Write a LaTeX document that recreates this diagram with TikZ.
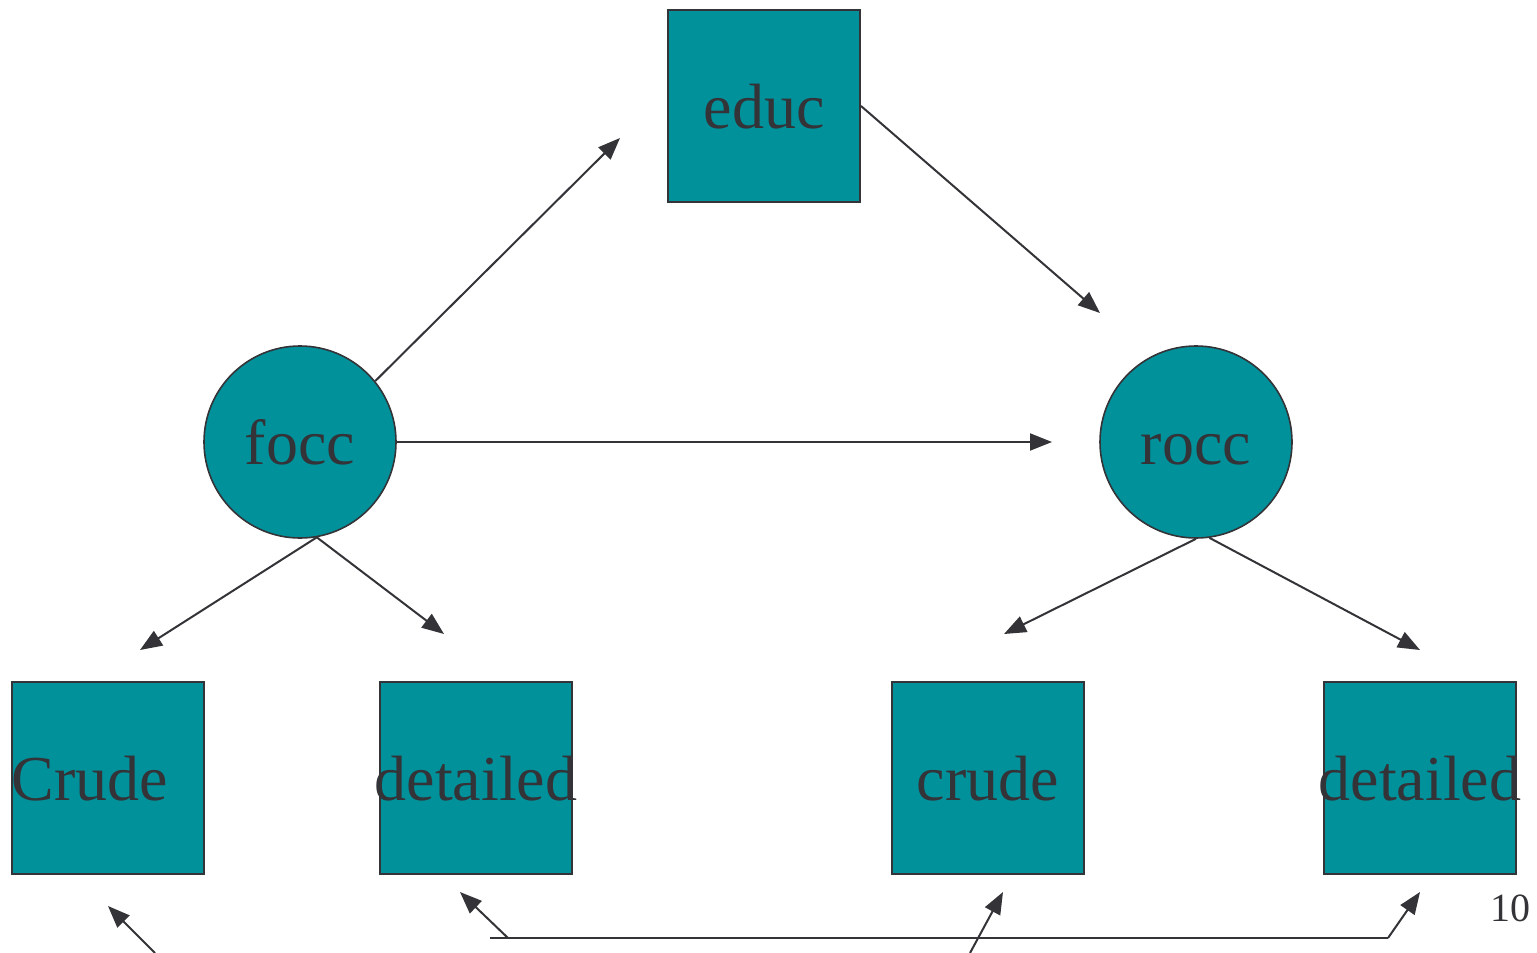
\documentclass[tikz,border=0pt]{standalone}
\usepackage{fontspec}
\setmainfont{Liberation Serif}
\usepackage{tikz}
\usetikzlibrary{arrows.meta}
\definecolor{tealfill}{RGB}{0,145,155}
\definecolor{linegray}{RGB}{51,51,56}
\newcommand{\bigfont}{\fontsize{32}{38}\selectfont}
\tikzstyle{varbox}=[rectangle,draw=linegray,fill=tealfill,line width=1pt,minimum size=96pt,inner sep=0pt,text=linegray,font=\bigfont,text height=23pt,text depth=1pt]
\tikzstyle{latent}=[varbox,circle,line width=0.8pt]
\tikzstyle{edge} = [draw=linegray,line width=1pt,-{Triangle[length=11pt,width=8.5pt]}]

\begin{document}
\begin{tikzpicture}[x=0.5pt,y=-0.5pt]
      \tikzset{every label/.style={text=linegray,font=\bigfont,inner sep=0pt,text height=23pt,text depth=1pt}}
      \useasboundingbox (0,0) rectangle (1537,953);
      \node[varbox] (educ) at (764,106) {educ};
      \node[latent] (focc) at (300,442) {focc};
      \node[latent] (rocc) at (1196,442) {rocc};
      \node[varbox,label={[anchor=west]west:Crude}] (crudeF) at (108,778) {};
      \node[varbox,label={center:detailed}] (detF) at (476,778) {};
      \node[varbox] (crudeR) at (988,778) {crude};
      \node[varbox,label={center:detailed}] (detR) at (1420,778) {};
      \node[text=linegray,font=\fontsize{20}{24}\selectfont] (pageno) at (1510,908) {10};
      % arrow ends
      \coordinate (educin) at (620,138);
      \coordinate (roccin) at (1100,313);
      \coordinate (roccw) at (1052,442);
      \coordinate (crudeFin) at (140,650);
      \coordinate (detFin) at (444,634);
      \coordinate (crudeRin) at (1004,634);
      \coordinate (detRin) at (1420,650);
      \draw[edge] (focc.39) to (educin);
      \draw[edge] (educ.east) to (roccin);
      \draw[edge] (focc.east) to (roccw);
      \draw[edge] (focc.-80) to (crudeFin);
      \draw[edge] (focc.-80) to (detFin);
      \draw[edge] (rocc.south) to (crudeRin);
      \draw[edge] (rocc.-82) to (detRin);
      % lower links
      \coordinate (lowA) at (155,953);
      \coordinate (crudeFout) at (108,906);
      \coordinate (barL) at (490,938);
      \coordinate (barS) at (508,938);
      \coordinate (barR) at (1388,938);
      \coordinate (detFout) at (460,892);
      \coordinate (detRout) at (1420,892);
      \coordinate (lowB) at (970,953);
      \coordinate (crudeRout) at (1003,892);
      \draw[edge] (lowA) to (crudeFout);
      \draw[draw=linegray,line width=1pt] (barL) -- (barR);
      \draw[edge] (barS) to (detFout);
      \draw[edge] (barR) to (detRout);
      \draw[edge] (lowB) to (crudeRout);
    \end{tikzpicture}
\end{document}
